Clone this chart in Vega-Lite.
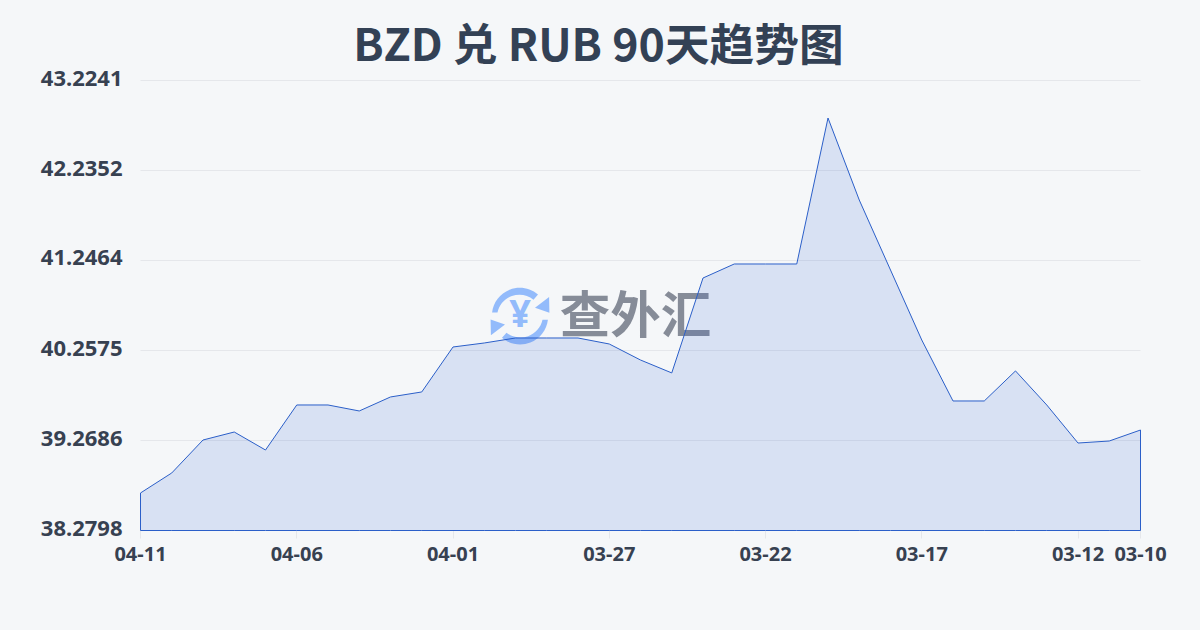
{"$schema":"https://vega.github.io/schema/vega-lite/v6.json","width":1000,"height":450,"autosize":"none","padding":{"left":140.5,"top":80.5,"right":59.5,"bottom":99.5},"background":"#f5f7f9","title":{"text":"BZD 兑 RUB 90天趋势图","anchor":"middle","dx":-42,"offset":-3,"font":"Noto Sans CJK SC","fontSize":44.7,"fontWeight":"bold","color":"#334155"},"config":{"view":{"stroke":null}},"datasets":{"rates":[{"date":"04-11","value":38.692},{"date":"04-10","value":38.912},{"date":"04-09","value":39.274},{"date":"04-08","value":39.362},{"date":"04-07","value":39.164},{"date":"04-06","value":39.659},{"date":"04-05","value":39.659},{"date":"04-04","value":39.593},{"date":"04-03","value":39.747},{"date":"04-02","value":39.802},{"date":"04-01","value":40.296},{"date":"03-31","value":40.340},{"date":"03-30","value":40.395},{"date":"03-29","value":40.395},{"date":"03-28","value":40.395},{"date":"03-27","value":40.329},{"date":"03-26","value":40.153},{"date":"03-25","value":40.011},{"date":"03-24","value":41.054},{"date":"03-23","value":41.208},{"date":"03-22","value":41.208},{"date":"03-21","value":41.208},{"date":"03-20","value":42.812},{"date":"03-19","value":41.911},{"date":"03-18","value":41.142},{"date":"03-17","value":40.373},{"date":"03-16","value":39.703},{"date":"03-15","value":39.703},{"date":"03-14","value":40.033},{"date":"03-13","value":39.659},{"date":"03-12","value":39.241},{"date":"03-11","value":39.263},{"date":"03-10","value":39.384}],"brandIcon":[{"date":"03-30","value":40.646,"label":"¥"}],"brandText":[{"date":"03-26","value":40.646,"label":"查外汇"}]},"encoding":{"x":{"field":"date","type":"ordinal","sort":null,"scale":{"type":"point","padding":0,"domain":["04-11","04-10","04-09","04-08","04-07","04-06","04-05","04-04","04-03","04-02","04-01","03-31","03-30","03-29","03-28","03-27","03-26","03-25","03-24","03-23","03-22","03-21","03-20","03-19","03-18","03-17","03-16","03-15","03-14","03-13","03-12","03-11","03-10"]},"title":null,"axis":{"translate":0,"values":["04-11","04-06","04-01","03-27","03-22","03-17","03-12","03-10"],"labelAngle":0,"labelFont":"Noto Sans","labelFontSize":20,"labelFontWeight":"bold","labelColor":"#374151","labelPadding":6,"tickColor":"#e5e7eb","tickSize":8,"domain":false,"grid":false,"labelOverlap":false,"labelBound":false,"labelFlush":false}},"y":{"field":"value","type":"quantitative","scale":{"domain":[38.2798,43.2241],"zero":false,"nice":false},"title":null,"axis":{"translate":0,"values":[38.2798,39.2686,40.2575,41.2464,42.2352,43.2241],"format":".4f","labelFont":"Noto Sans","labelFontSize":22,"labelFontWeight":"bold","labelColor":"#374151","labelPadding":18,"labelBaseline":"bottom","labelOffset":10,"ticks":false,"domain":false,"grid":true,"gridColor":"#e5e7eb","gridWidth":1}}},"layer":[{"data":{"name":"brandIcon"},"mark":{"type":"point","filled":true,"size":3600,"opacity":1,"xOffset":4.5,"yOffset":1,"color":"#93bbfb","strokeWidth":0,"shape":"M-.93,-.12 A.93,.93 0 0 1 .6,-.72 L.45,-.55 A.75,.75 0 0 0 -.75,-.12 Z M.97,-.64 L.98,-.11 L.5,-.28 Z M.93,.12 A.93,.93 0 0 1 -.6,.72 L-.45,.55 A.75,.75 0 0 0 .75,.12 Z M-.97,.64 L-.98,.11 L-.5,.28 Z"}},{"data":{"name":"brandIcon"},"mark":{"type":"text","font":"Noto Sans","fontSize":38,"fontWeight":"bold","color":"#93bbfb","xOffset":4.5,"yOffset":1},"encoding":{"text":{"field":"label"}}},{"data":{"name":"brandText"},"mark":{"type":"text","font":"Noto Sans CJK SC","fontSize":50.5,"fontWeight":"bold","color":"#6b7280","opacity":0.8,"xOffset":-5,"yOffset":3},"encoding":{"text":{"field":"label"}}},{"data":{"name":"rates"},"mark":{"type":"area","fill":"#2f5fd0","fillOpacity":0.145,"stroke":"#2b5fc9","strokeWidth":1,"interpolate":"linear"},"encoding":{"y2":{"datum":38.2798}}}]}
